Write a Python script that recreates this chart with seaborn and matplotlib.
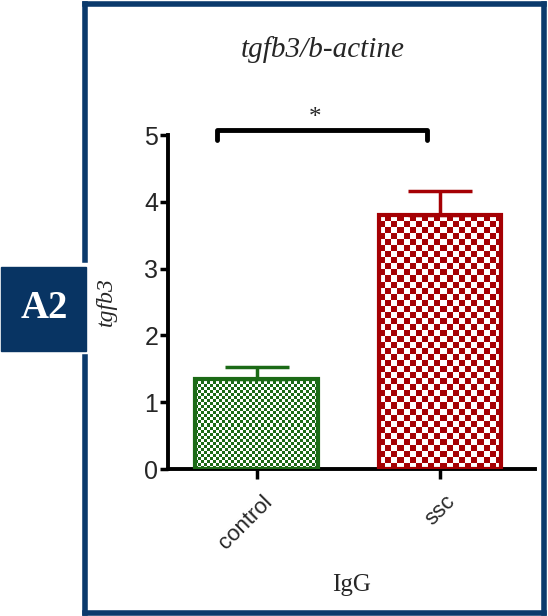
import numpy as np
import pandas as pd
import matplotlib
matplotlib.use('Agg')
import matplotlib.pyplot as plt
import seaborn as sns
from matplotlib.colors import ListedColormap
from matplotlib.lines import Line2D
from matplotlib.patches import Rectangle
from matplotlib.transforms import offset_copy

# data
groups = ['control', 'ssc']
means = [1.35, 3.80]
sem = [0.18, 0.36]
bar_colors = ['#1b6a16', '#a50004']
checker_px = [3, 6]   # checker cell size in pixels for each bar

title = 'tgfb3/b-actine'
ylabel = 'tgfb3'
xlabel = 'IgG'
yticks = [0, 1, 2, 3, 4, 5]
panel = 'A2'
navy = '#0b3a6c'


def main():
    sns.set_style('white')
    plt.rcParams['font.family'] = ['Liberation Sans Narrow', 'Liberation Sans', 'DejaVu Sans']

    df = pd.DataFrame({'group': groups, 'value': means})

    fig = plt.figure(figsize=(5.48, 6.16), dpi=100)
    ax = fig.add_axes([0.3066, 0.2386, 0.6703, 0.5422])

    sns.barplot(data=df, x='group', y='value', hue='group', palette=bar_colors,
                width=0.67, linewidth=3, legend=False, ax=ax, errorbar=None)
    ax.set_xlim(-0.485, 1.52)
    ax.set_ylim(0, 5)

    # error bars (upper only)
    for i, (m, e, c) in enumerate(zip(means, sem, bar_colors)):
        ax.errorbar(i, m, yerr=[[0], [e]], fmt='none', ecolor=c,
                    elinewidth=2.5, capsize=23, capthick=2.5, zorder=4)

    # checker fill clipped to each bar
    fig.canvas.draw()
    for patch, c, cell in zip(ax.patches, bar_colors, checker_px):
        patch.set_facecolor('none')
        patch.set_edgecolor(c)
        patch.set_zorder(3)
        bb = patch.get_window_extent()
        nx = max(int(round(bb.width / cell)), 1)
        ny = max(int(round(bb.height / cell)), 1)
        grid = np.indices((ny, nx)).sum(axis=0) % 2
        x0, y0 = patch.get_x(), patch.get_y()
        img = ax.imshow(grid, cmap=ListedColormap(['white', c]), interpolation='nearest',
                        extent=[x0, x0 + patch.get_width(), y0, y0 + patch.get_height()],
                        aspect='auto', zorder=2)
        img.set_clip_path(patch)
    ax.set_xlim(-0.485, 1.52)
    ax.set_ylim(0, 5)

    sns.despine(ax=ax)
    for s in ['left', 'bottom']:
        ax.spines[s].set_linewidth(2.8)
        ax.spines[s].set_color('black')
    ax.tick_params(axis='both', direction='out', length=6, width=2.5, color='black',
                   labelsize=18, pad=1, left=True, bottom=True)
    ax.tick_params(axis='x', length=7, pad=9)
    ax.set_yticks(yticks)
    ax.set_xticks(range(len(groups)))
    ax.set_xticklabels(groups, rotation=45, ha='right', rotation_mode='anchor', fontsize=16)
    for lab in ax.get_xticklabels():
        lab.set_transform(offset_copy(lab.get_transform(), fig=fig, x=5, y=0, units='dots'))
    ax.set_xlabel(xlabel, family='Liberation Serif', fontsize=18, labelpad=15)
    ax.set_ylabel(ylabel, family='Liberation Serif', style='italic', fontsize=17, labelpad=20)

    W, H = 548, 616
    fig.text(323 / W, 1 - 50 / H, title, ha='center', va='center',
             family='Liberation Serif', style='italic', fontsize=21)

    # significance bracket
    ax.plot([-0.22, -0.22, 0.93, 0.93], [4.92, 5.07, 5.07, 4.92], color='black',
            lw=3.5, clip_on=False, solid_capstyle='round')
    ax.text(0.32, 5.25, '*', ha='center', va='center', fontsize=18,
            family='Liberation Serif', clip_on=False)

    # outer frame with a gap for the panel tag
    def fline(xs, ys):
        fig.add_artist(Line2D([x / W for x in xs], [1 - y / H for y in ys],
                              color=navy, lw=4, transform=fig.transFigure,
                              solid_capstyle='projecting'))
    fline([85, 544], [4, 4])
    fline([544, 544], [4, 613])
    fline([85, 544], [613, 613])
    fline([85, 85], [4, 260])
    fline([85, 85], [357, 613])

    fig.add_artist(Rectangle((1 / W, 1 - 351 / H), 85 / W, 84 / H,
                             transform=fig.transFigure, color='#083463'))
    fig.text(44 / W, 1 - 308 / H, panel, ha='center', va='center', color='white',
             fontsize=28, fontweight='bold', family='Liberation Serif')

    fig.savefig('out.png', dpi=100, facecolor='white')
    plt.close(fig)


if __name__ == '__main__':
    main()
